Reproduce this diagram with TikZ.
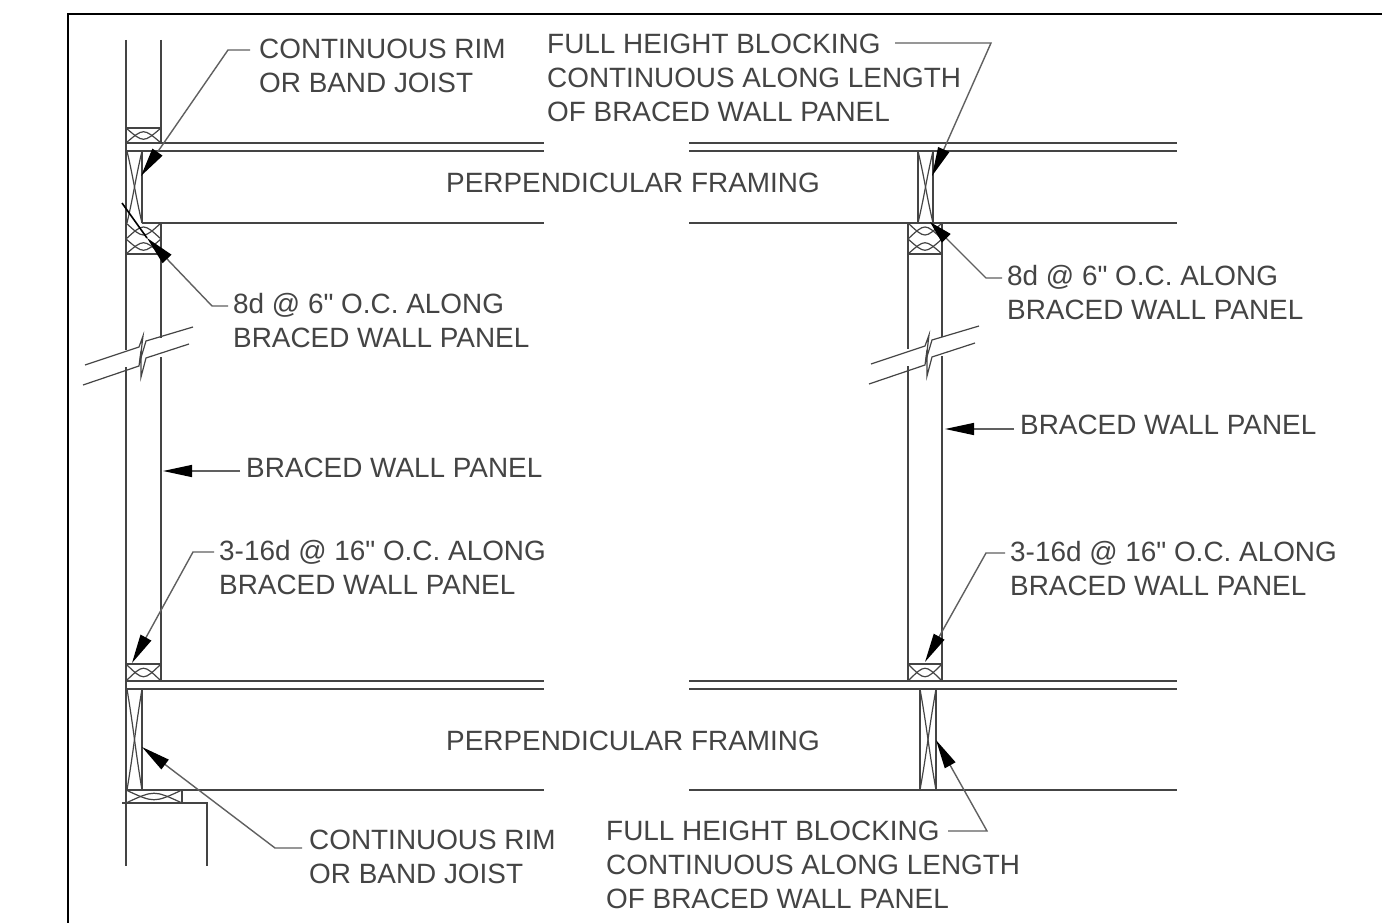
\documentclass[tikz,border=0pt]{standalone}
\usepackage{fontspec}
\newfontfamily\labelfont{Liberation Sans}
\usetikzlibrary{arrows.meta}
\definecolor{inkgray}{HTML}{444444}
\tikzset{
    framing/.style={draw=inkgray,line width=1.9pt},
    thinline/.style={draw=inkgray,line width=1.2pt},
    leader/.style={draw=inkgray!85,line width=1.4pt,-{Stealth[black,length=29pt,width=12pt,inset=0pt]}},
    shortleader/.style={draw=inkgray!85,line width=1.4pt,-{Stealth[black,length=23pt,width=12pt,inset=0pt]}},
    callout/.style={inner sep=0pt,anchor=north west,align=left,text=inkgray,font=\labelfont\fontsize{27.9pt}{33.8pt}\selectfont},
    midlabel/.style={inner sep=0pt,text=inkgray,font=\labelfont\fontsize{27.9pt}{33.8pt}\selectfont}
}
\begin{document}
\begin{tikzpicture}[x=1pt,y=-1pt]
    \useasboundingbox (0,0) rectangle (1382,923);
    \fill[white] (0,0) rectangle (1382,923);
    % frame
    \draw[black,line width=2.2pt] (68,923) -- (68,14) -- (1382,14);

    % floor bands
    \draw[framing] (126,143) -- (544,143);
    \draw[framing] (126,151) -- (544,151);
    \draw[framing] (689,143) -- (1177,143);
    \draw[framing] (689,151) -- (1177,151);
    \draw[framing] (142,223) -- (544,223);
    \draw[framing] (689,223) -- (1177,223);
    \draw[framing] (126,681) -- (544,681);
    \draw[framing] (126,689) -- (544,689);
    \draw[framing] (689,681) -- (1177,681);
    \draw[framing] (689,689) -- (1177,689);
    \draw[framing] (126,790) -- (544,790);
    \draw[framing] (689,790) -- (1177,790);

    % left wall
    \draw[framing] (126,40) -- (126,350);
    \draw[framing] (126,367) -- (126,866);
    \draw[framing] (161,40) -- (161,143);
    \draw[framing] (161,223) -- (161,338);
    \draw[framing] (161,357) -- (161,681);
    \draw[framing] (126,128) -- (161,128);
    \draw[framing] (126,254) -- (161,254);
    \draw[framing] (126,664) -- (161,664);
    \draw[framing] (142,151) -- (142,223);
    \draw[framing] (142,689) -- (142,790);

    % ledger at bottom left
    \draw[framing] (122,803) -- (207,803) -- (207,866);
    \draw[thinline] (182,790) -- (182,803);

    % right wall
    \draw[framing] (908,223) -- (908,349);
    \draw[framing] (908,366) -- (908,681);
    \draw[framing] (942,223) -- (942,337);
    \draw[framing] (942,356) -- (942,681);
    \draw[framing] (908,254) -- (942,254);
    \draw[framing] (908,664) -- (942,664);
    \draw[framing] (918,151) -- (918,223);
    \draw[framing] (933,151) -- (933,223);
    \draw[framing] (920,689) -- (920,790);
    \draw[framing] (936,689) -- (936,790);

    % blocking crosses
    \foreach \xa/\xb/\ya/\yb in {126/161/128/143, 126/161/223/239, 126/161/239/254, 126/161/664/681, 126/182/790/803, 908/942/223/239, 908/942/239/254, 908/942/664/681}{
        \draw[thinline] (\xa,\ya) .. controls ({(\xa+\xb)/2},\yb) .. (\xb,\ya);
        \draw[thinline] (\xa,\yb) .. controls ({(\xa+\xb)/2},\ya) .. (\xb,\yb);
    }
    \foreach \xa/\xb/\ya/\yb in {127/142/151/223, 918/933/151/223, 127/142/689/790, 920/936/689/790}{
        \draw[thinline] (\xa,\ya) .. controls ({(\xa+\xb)/2},{\ya+0.45*(\yb-\ya)}) and ({(\xa+\xb)/2},{\ya+0.55*(\yb-\ya)}) .. (\xb,\yb);
        \draw[thinline] (\xb,\ya) .. controls ({(\xa+\xb)/2},{\ya+0.45*(\yb-\ya)}) and ({(\xa+\xb)/2},{\ya+0.55*(\yb-\ya)}) .. (\xa,\yb);
    }

    % break lines
    \foreach \dx/\dy in {0/0, 786/-1}{
        \begin{scope}[shift={(\dx,\dy)}]
            \draw[thinline] (85,365) -- (139,347) -- (143,336) -- (140,361) -- (146,341) -- (193,327);
            \draw[thinline] (83,385) -- (139,366) -- (141,351) -- (141,377) -- (146,358) -- (189,344);
        \end{scope}
    }

    % labels
    \node[callout] (rimtop) at (259,39) {CONTINUOUS RIM\\OR BAND JOIST};
    \node[callout] (blocktop) at (547,34) {FULL HEIGHT BLOCKING\\CONTINUOUS ALONG LENGTH\\OF BRACED WALL PANEL};
    \node[midlabel] (framingtop) at (633,183) {PERPENDICULAR FRAMING};
    \node[midlabel] (framingbot) at (633,741) {PERPENDICULAR FRAMING};
    \node[callout] (nailleft) at (233,293) {8d @ 6" O.C. ALONG\\BRACED WALL PANEL};
    \node[callout] (nailright) at (1007,265) {8d @ 6" O.C. ALONG\\BRACED WALL PANEL};
    \node[callout,anchor=west] (panelleft) at (246,468) {BRACED WALL PANEL};
    \node[callout,anchor=west] (panelright) at (1020,425) {BRACED WALL PANEL};
    \node[callout] (spikeleft) at (219,540) {3-16d @ 16" O.C. ALONG\\BRACED WALL PANEL};
    \node[callout] (spikeright) at (1010,541) {3-16d @ 16" O.C. ALONG\\BRACED WALL PANEL};
    \node[callout] (rimbot) at (309,830) {CONTINUOUS RIM\\OR BAND JOIST};
    \node[callout] (blockbot) at (606,821) {FULL HEIGHT BLOCKING\\CONTINUOUS ALONG LENGTH\\OF BRACED WALL PANEL};

    % leader bends and ends
    \coordinate (rimtopstart) at (250,50);
    \coordinate (rimtopbend) at (228,50);
    \coordinate (rimtopend) at (141,176);
    \coordinate (blocktopstart) at (895,43);
    \coordinate (blocktopbend) at (991,43);
    \coordinate (blocktopend) at (932,176);
    \coordinate (nailleftstart) at (228,306);
    \coordinate (nailleftbend) at (212,306);
    \coordinate (nailleftend) at (147,238);
    \coordinate (naillefttail) at (122,203);
    \coordinate (nailrightstart) at (1002,278);
    \coordinate (nailrightbend) at (986,278);
    \coordinate (nailrightend) at (930,222);
    \coordinate (spikeleftstart) at (214,552);
    \coordinate (spikeleftbend) at (193,552);
    \coordinate (spikeleftend) at (132,663);
    \coordinate (spikerightstart) at (1005,553);
    \coordinate (spikerightbend) at (986,553);
    \coordinate (spikerightend) at (925,662);
    \coordinate (rimbotstart) at (302,848);
    \coordinate (rimbotbend) at (275,848);
    \coordinate (rimbotend) at (142,747);
    \coordinate (blockbotstart) at (948,831);
    \coordinate (blockbotbend) at (987,831);
    \coordinate (blockbotend) at (936,740);
    \coordinate (panelleftstart) at (240,471);
    \coordinate (panelleftend) at (163,471);
    \coordinate (panelrightstart) at (1014,429);
    \coordinate (panelrightend) at (945,429);

    % leaders
    \draw[leader] (rimtopstart) -- (rimtopbend) -- (rimtopend);
    \draw[leader] (blocktopstart) -- (blocktopbend) -- (blocktopend);
    \draw[leader] (nailleftstart) -- (nailleftbend) -- (nailleftend);
    \draw[black,line width=1.6pt] (nailleftend) -- (naillefttail);
    \draw[shortleader] (nailrightstart) -- (nailrightbend) -- (nailrightend);
    \draw[leader] (spikeleftstart) -- (spikeleftbend) -- (spikeleftend);
    \draw[leader] (spikerightstart) -- (spikerightbend) -- (spikerightend);
    \draw[leader] (rimbotstart) -- (rimbotbend) -- (rimbotend);
    \draw[leader] (blockbotstart) -- (blockbotbend) -- (blockbotend);
    \draw[leader] (panelleftstart) -- (panelleftend);
    \draw[leader] (panelrightstart) -- (panelrightend);
\end{tikzpicture}
\end{document}
